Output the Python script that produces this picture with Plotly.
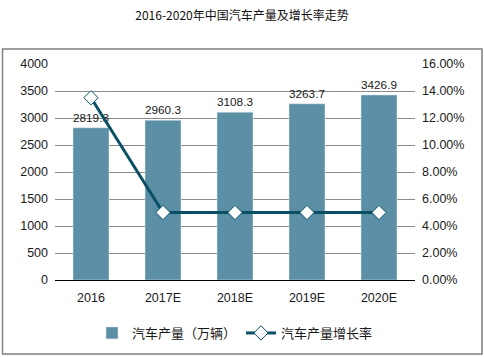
import plotly.graph_objects as go

categories = ["2016", "2017E", "2018E", "2019E", "2020E"]
production = [2819.3, 2960.3, 3108.3, 3263.7, 3426.9]
growth = [0.135, 0.05, 0.05, 0.05, 0.05]
bar_labels = ["2819.3", "2960.3", "3108.3", "3263.7", "3426.9"]

font_main = "Liberation Sans, Arial, sans-serif"
font_cjk = "Noto Sans CJK SC, sans-serif"

fig = go.Figure()
fig.add_trace(go.Bar(
    x=categories, y=production, name="汽车产量（万辆）",
    marker=dict(color="#5B8FA6"),
    text=bar_labels, textposition="outside", cliponaxis=False,
    textfont=dict(size=12.5, color="#1a1a1a", family=font_main),
))
fig.add_trace(go.Scatter(
    x=categories, y=growth, name="汽车产量增长率", yaxis="y2",
    mode="lines+markers",
    line=dict(color="#0B4F66", width=3),
    marker=dict(symbol="diamond", size=11, color="white",
                line=dict(color="#0B4F66", width=1)),
))

fig.update_layout(
    width=484, height=357,
    margin=dict(l=55, r=69, t=64, b=77, autoexpand=False),
    paper_bgcolor="white", plot_bgcolor="white",
    title=dict(text="2016-2020年中国汽车产量及增长率走势", x=0.5, xanchor="center",
               y=1 - 16/357, yanchor="middle",
               font=dict(size=12, color="#111111", family=font_cjk)),
    bargap=0.5,
    showlegend=True,
    hovermode=False,
    legend=dict(orientation="h", x=0.5, xanchor="center",
                yref="container", y=1 - 333/357, yanchor="middle",
                font=dict(size=13, color="#1a1a1a", family=font_cjk),
                itemwidth=30, traceorder="normal"),
    xaxis=dict(showgrid=False, showline=True, linecolor="black", linewidth=1,
               ticks="", automargin=False, ticklabelstandoff=6,
               tickfont=dict(size=12.5, color="#1a1a1a", family=font_main)),
    yaxis=dict(range=[0, 4000], dtick=500, showgrid=True, gridcolor="#8a8a8a",
               gridwidth=1, zeroline=False, showline=False, ticks="", automargin=False,
               ticklabelstandoff=6,
               tickfont=dict(size=12.5, color="#1a1a1a", family=font_main)),
    yaxis2=dict(range=[0, 0.16], dtick=0.02, tickformat=".2%", overlaying="y",
                side="right", showgrid=False, zeroline=False, showline=False, ticks="",
                automargin=False, ticklabelstandoff=6,
                tickfont=dict(size=12.5, color="#1a1a1a", family=font_main)),
    shapes=[dict(type="rect", xref="paper", yref="paper",
                 x0=(2.5-55)/360, x1=(482-55)/360,
                 y0=(280-354)/216, y1=(280-49)/216,
                 line=dict(color="#808080", width=1.5), fillcolor="rgba(0,0,0,0)")],
)

fig.write_html("out.html", config={"displayModeBar": False},
               post_script="document.body.style.margin='0px';document.body.style.overflow='hidden';")
